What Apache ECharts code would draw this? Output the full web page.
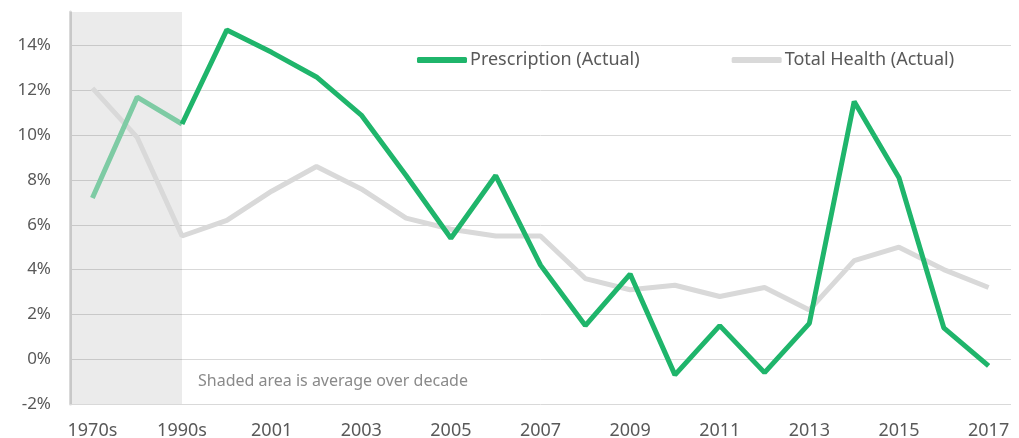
<!DOCTYPE html>
<html>
<head>
<meta charset="utf-8">
<script src="https://cdn.jsdelivr.net/npm/echarts@6/dist/echarts.min.js"></script>
<style>
  html, body { margin: 0; padding: 0; background: #fff; }
  #chart { width: 1019px; height: 438px; }
</style>
</head>
<body>
<div id="chart"></div>
<script>
const categories = ['1970s', '1980s', '1990s', '2000', '2001', '2002', '2003', '2004', '2005', '2006',
  '2007', '2008', '2009', '2010', '2011', '2012', '2013', '2014', '2015', '2016', '2017']

// 处方药增长率（%）
const prescription = [7.2, 11.7, 10.5, 14.7, 13.7, 12.6, 10.9, 8.2, 5.4, 8.2,
  4.2, 1.5, 3.8, -0.7, 1.5, -0.6, 1.6, 11.5, 8.1, 1.4, -0.3]

// 总体医疗增长率（%）
const totalHealth = [12.1, 9.9, 5.5, 6.2, 7.5, 8.6, 7.6, 6.3, 5.8, 5.5,
  5.5, 3.6, 3.1, 3.3, 2.8, 3.2, 2.2, 4.4, 5.0, 4.0, 3.2]

// 前三个为十年平均值（阴影区）
const decadeCount = 3

const green = '#1fb56b'
const greenFaded = '#7ecba4'
const grey = '#d9d9d9'
const labelColor = '#595959'
const font = '"Noto Sans", sans-serif'

const chart = echarts.init(document.getElementById('chart'))

const rxMain = prescription.map((v, i) => (i >= decadeCount - 1 ? v : '-'))
const rxDecade = prescription.map((v, i) => (i < decadeCount ? v : '-'))

const option = {
  animation: false,
  grid: { left: 70, right: 8, top: 12, bottom: 34, outerBoundsMode: 'none' },
  legend: {
    data: ['Prescription (Actual)', 'Total Health (Actual)'],
    left: 412,
    top: 46,
    icon: 'roundRect',
    itemWidth: 50,
    itemHeight: 6,
    itemGap: 92,
    textStyle: { color: labelColor, fontSize: 18, fontFamily: font, padding: [0, 0, 0, -2] }
  },
  xAxis: {
    type: 'category',
    data: categories,
    boundaryGap: true,
    axisLine: { show: false, onZero: false },
    axisTick: { show: false },
    axisLabel: {
      interval: 1,
      color: labelColor,
      fontSize: 18,
      fontFamily: font,
      margin: 18
    }
  },
  yAxis: {
    type: 'value',
    min: -2,
    max: 15.5,
    interval: 2,
    axisLine: { show: true, lineStyle: { color: grey, width: 3 } },
    axisTick: { show: false },
    axisLabel: {
      showMaxLabel: false,
      formatter: '{value}%',
      color: labelColor,
      fontSize: 17,
      fontFamily: font,
      margin: 19
    },
    splitLine: { showMaxLine: false, lineStyle: { color: grey, width: 1 } }
  },
  graphic: [
    {
      type: 'text',
      left: 198,
      top: 373,
      style: {
        text: 'Shaded area is average over decade',
        fill: '#8a8a8a',
        font: '16px "Noto Sans", sans-serif'
      }
    }
  ],
  series: [
    {
      name: 'Total Health (Actual)',
      type: 'line',
      data: totalHealth,
      showSymbol: false,
      lineStyle: { color: grey, width: 5 },
      itemStyle: { color: grey },
      z: 2,
      markArea: {
        silent: true,
        itemStyle: { color: 'rgba(0, 0, 0, 0.08)' },
        data: [[{}, { xAxis: categories[decadeCount - 1] }]]
      }
    },
    {
      name: 'decade',
      type: 'line',
      data: rxDecade,
      showSymbol: false,
      lineStyle: { color: greenFaded, width: 5 },
      itemStyle: { color: greenFaded },
      z: 3
    },
    {
      name: 'Prescription (Actual)',
      type: 'line',
      data: rxMain,
      showSymbol: false,
      lineStyle: { color: green, width: 5 },
      itemStyle: { color: green },
      z: 4
    }
  ]
}

chart.setOption(option)
</script>
</body>
</html>
